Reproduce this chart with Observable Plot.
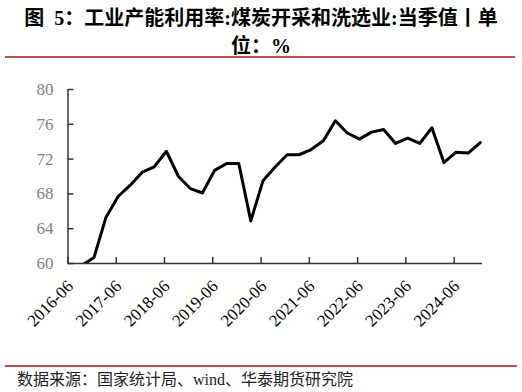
<!DOCTYPE html>
<html><head><meta charset="utf-8">
<script src="https://cdn.jsdelivr.net/npm/d3@7"></script>
<script src="https://cdn.jsdelivr.net/npm/@observablehq/plot@0.6"></script>
<style>
body{margin:0;background:#fff;width:522px;height:392px;position:relative;overflow:hidden;font-family:"Liberation Serif","Noto Sans CJK SC",serif;}
#title{position:absolute;left:0;top:4px;width:522px;text-align:center;font-weight:bold;font-size:20px;line-height:28px;color:#000;font-family:"Liberation Serif","Noto Sans CJK SC",serif;}
.redline{position:absolute;left:5px;height:2px;background:#c0504d;}
#chart{position:absolute;left:0;top:60px;}
#chart svg text{font-family:"Liberation Serif",serif !important;font-size:17px !important;}
#source{position:absolute;left:17px;top:366px;font-size:16px;color:#222;white-space:nowrap;}
</style></head>
<body>
<div id="title">图&nbsp; 5：工业产能利用率:煤炭开采和洗选业:当季值丨单<br>位：%</div>
<div class="redline" style="top:56px;width:510px"></div>
<div id="chart"></div>
<div class="redline" style="top:365px;width:512px"></div>
<div id="source">数据来源：国家统计局、wind、华泰期货研究院</div>
<script>
const quarters = ["2016-09","2016-12","2017-03","2017-06","2017-09","2017-12","2018-03","2018-06","2018-09","2018-12",
  "2019-03","2019-06","2019-09","2019-12","2020-03","2020-06","2020-09","2020-12","2021-03","2021-06","2021-09","2021-12",
  "2022-03","2022-06","2022-09","2022-12","2023-03","2023-06","2023-09","2023-12","2024-03","2024-06","2024-09","2024-12"];
const utilization = [59.8,60.7,65.3,67.7,69.0,70.5,71.1,72.9,70.0,68.6,
  68.1,70.7,71.5,71.5,64.9,69.5,71.1,72.5,72.5,73.1,74.1,76.4,
  75.0,74.3,75.1,75.4,73.8,74.4,73.8,75.6,71.6,72.8,72.7,73.9];
const yTicks = [60,64,68,72,76,80];
const xTickLabels = ["2016-06","2017-06","2018-06","2019-06","2020-06","2021-06","2022-06","2023-06","2024-06"];
const xDomainLabels = ["2016-06","2025-01"];

const parse = d3.utcParse("%Y-%m");
const data = quarters.map((q, i) => ({date: d3.utcDay.offset(parse(q), 14), value: utilization[i]}));
const tickDates = xTickLabels.map(parse);
const xDomain = xDomainLabels.map(parse);
const fmt = d => xTickLabels[tickDates.findIndex(t => +t === +d)];

const chart = Plot.plot({
  width: 522,
  height: 300,
  marginLeft: 67.5,
  marginRight: 40,
  marginTop: 29,
  marginBottom: 97,
  style: {fontFamily: '"Liberation Serif", serif', background: "transparent"},
  x: {type: "utc", domain: xDomain},
  y: {domain: [60, 80]},
  marks: [
    Plot.axisY({ticks: yTicks, tickSize: -6, tickPadding: 20.5, fontSize: 17, fill: "#7f7f7f", stroke: "#333", strokeWidth: 1.5, label: null}),
    Plot.axisX({ticks: tickDates, tickSize: -6, fill: "none", stroke: "#333", strokeWidth: 1.5, label: null, tickFormat: fmt}),
    Plot.axisX({ticks: tickDates, tickSize: -6, tickPadding: 22, tickRotate: -45, fontSize: 17, fill: "#000", stroke: "none", label: null,
      dx: 2.5, dy: 4, tickFormat: fmt}),
    Plot.ruleY([60], {stroke: "#333", strokeWidth: 1.5}),
    Plot.ruleX([xDomain[0]], {stroke: "#333", strokeWidth: 1.5}),
    Plot.lineY(data, {x: "date", y: "value", stroke: "#000", strokeWidth: 3, clip: true})
  ]
});
document.getElementById("chart").appendChild(chart);
</script>
</body></html>
